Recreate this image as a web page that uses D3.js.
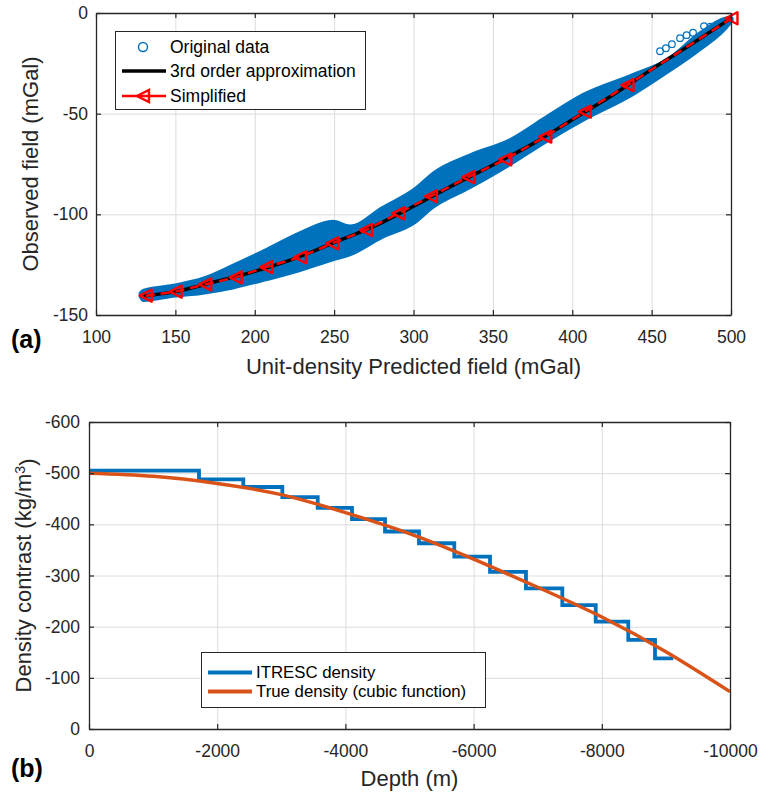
<!DOCTYPE html>
<html><head><meta charset="utf-8">
<script src="https://cdn.jsdelivr.net/npm/d3@7"></script>
<style>
body{margin:0;background:#fff;}
svg{display:block;font-family:"Liberation Sans",Arial,Helvetica,sans-serif;}
</style>
</head><body>
<svg id="c" width="764" height="794"></svg>
<script>
// ---------- Panel (a) data ----------
const xTicksA = [100,150,200,250,300,350,400,450,500];
const yTicksA = [0,-50,-100,-150];
// envelope of the "Original data" point cloud
const bandX     = [127.5, 129.6, 148.5, 167.4, 186.3, 207.7, 228.5, 249.3, 260.0, 280.2, 300.9, 312.3, 335.6, 360.8, 382.8, 406.8, 438.3, 459.7, 480.5, 499.4, 501.0];
const bandUpper = [-139.0,-137.6,-135.0,-131.5,-125.0,-117.0,-108.8,-103.2,-105.5,-96.4,-87.0,-79.2,-70.2,-62.6,-51.7,-40.2,-30.3,-22.9,-9.5,-2.0,-2.5];
const bandLower = [-141.0,-143.0,-141.0,-139.4,-136.8,-132.6,-128.2,-122.8,-120.4,-111.8,-104.4,-96.8,-87.0,-75.6,-64.6,-53.6,-40.8,-29.9,-18.5,-5.5,-3.8];
// scattered open circles above the cloud, top right
const outlierX = [455.3, 459.0, 462.8, 467.9, 472.0, 476.1, 483.0, 487.0, 491.2];
const outlierY = [-19.0, -17.5, -15.5, -12.5, -11.0, -9.8, -6.5, -6.8, -5.8];
// 3rd order approximation
const approxX = [130, 150, 175, 200, 225, 250, 275, 300, 325, 350, 375, 400, 425, 450, 475, 500];
const approxY = [-140.6,-138.4,-133.5,-128.3,-122.0,-114.0,-106.0,-96.0,-85.5,-75.5,-65.0,-53.0,-41.0,-28.0,-15.5,-2.6];
// Simplified
const simpX = [131.3, 150.2, 168.8, 188.0, 207.2, 228.5, 248.8, 270.0, 290.4, 311.0, 334.5, 357.8, 383.0, 407.9, 434.8, 500.3];
const simpY = [-140.4,-138.4,-134.8,-131.3,-126.2,-121.3,-114.4,-107.8,-99.5,-91.0,-81.5,-72.7,-61.4,-49.0,-35.8,-2.6];

// ---------- Panel (b) data ----------
const xTicksB = [0,-2000,-4000,-6000,-8000,-10000];
const yTicksB = [0,-100,-200,-300,-400,-500,-600];
const stepEdges  = [0,-1716,-2407,-3016,-3568,-4103,-4618,-5148,-5699,-6256,-6817,-7384,-7905,-8413,-8830,-9115];
const stepValues = [-505,-488,-473,-453,-432,-410,-386,-363,-337,-307,-275,-242,-210,-174,-138];
const trueDepth   = [0,-1000,-2000,-3000,-4000,-5000,-6000,-7000,-8000,-9000,-10000];
const trueDensity = [-500,-494,-480,-458,-423,-382,-332,-277,-219,-151,-73];

const BLUE = "#0072BD", ORANGE = "#D95319", RED = "#FF0000", AX = "#262626";
const svg = d3.select("#c");

function frame(g, x, y, xt, yt, L, R, T, B) {
  g.append("g").attr("transform",`translate(0,${B})`)
    .call(d3.axisBottom(x).tickValues(xt).tickSize(-(B-T)).tickFormat(""))
    .call(s=>{s.select(".domain").remove(); s.selectAll("line").attr("stroke","#dcdcdc").attr("stroke-width",1);});
  g.append("g").attr("transform",`translate(${L},0)`)
    .call(d3.axisLeft(y).tickValues(yt).tickSize(-(R-L)).tickFormat(""))
    .call(s=>{s.select(".domain").remove(); s.selectAll("line").attr("stroke","#dcdcdc").attr("stroke-width",1);});
}
function axes(g, x, y, xt, yt, L, R, T, B, yPad) {
  const style = s => {
    s.select(".domain").attr("stroke",AX).attr("stroke-width",1.3);
    s.selectAll(".tick line").attr("stroke",AX).attr("stroke-width",1.2);
    s.selectAll("text").attr("fill",AX).attr("font-size",17.5).attr("font-family","Liberation Sans, Arial, sans-serif");
  };
  g.append("g").attr("transform",`translate(0,${B})`)
    .call(d3.axisBottom(x).tickValues(xt).tickSizeInner(-5).tickSizeOuter(0).tickPadding(16).tickFormat(d3.format("d")))
    .call(style);
  g.append("g").attr("transform",`translate(0,${T})`)
    .call(d3.axisTop(x).tickValues(xt).tickSizeInner(-5).tickSizeOuter(0).tickFormat(""))
    .call(style);
  g.append("g").attr("transform",`translate(${L},0)`)
    .call(d3.axisLeft(y).tickValues(yt).tickSizeInner(-5).tickSizeOuter(0).tickPadding(yPad).tickFormat(d3.format("d")))
    .call(style);
  g.append("g").attr("transform",`translate(${R},0)`)
    .call(d3.axisRight(y).tickValues(yt).tickSizeInner(-5).tickSizeOuter(0).tickFormat(""))
    .call(style);
  g.selectAll(".tick text").each(function(){ const t=d3.select(this); t.text(t.text().replace("−","-")); });
}
function triLeft(size){ const h=size/2; return `M${-h},0 L${h},${-h} L${h},${h} Z`; }

// ================= Panel (a) =================
{
  const L=96, R=731, T=13, B=315;
  const x = d3.scaleLinear().domain([100,500]).range([L,R]);
  const y = d3.scaleLinear().domain([-150,0]).range([B,T]);
  const g = svg.append("g");
  frame(g,x,y,xTicksA,yTicksA,L,R,T,B);

  const band = bandX.map((v,i)=>({x:v,u:bandUpper[i],l:bandLower[i]}));
  const area = d3.area().x(d=>x(d.x)).y0(d=>y(d.l)).y1(d=>y(d.u)).curve(d3.curveMonotoneX);
  g.append("path").datum(band).attr("d",area).attr("fill",BLUE).attr("stroke",BLUE).attr("stroke-width",2).attr("stroke-linejoin","round");
  g.append("g").selectAll("circle").data(outlierX.map((v,i)=>({x:v,y:outlierY[i]}))).join("circle")
    .attr("cx",d=>x(d.x)).attr("cy",d=>y(d.y)).attr("r",3.3).attr("fill","none").attr("stroke",BLUE).attr("stroke-width",1.2);

  const ap = approxX.map((v,i)=>[v,approxY[i]]);
  g.append("path").datum(ap).attr("d",d3.line().x(d=>x(d[0])).y(d=>y(d[1])).curve(d3.curveMonotoneX))
    .attr("fill","none").attr("stroke","#000").attr("stroke-width",3.5);
  const sp = simpX.map((v,i)=>[v,simpY[i]]);
  g.append("path").datum(sp).attr("d",d3.line().x(d=>x(d[0])).y(d=>y(d[1])))
    .attr("fill","none").attr("stroke",RED).attr("stroke-width",2.5).attr("stroke-dasharray","9,6");
  g.append("g").selectAll("path").data(sp).join("path")
    .attr("transform",d=>`translate(${x(d[0])},${y(d[1])})`).attr("d",triLeft(12))
    .attr("fill","none").attr("stroke",RED).attr("stroke-width",2.4).attr("stroke-linejoin","round");

  axes(g,x,y,xTicksA,yTicksA,L,R,T,B,8);

  const lg = g.append("g");
  lg.append("rect").attr("x",115.5).attr("y",31.5).attr("width",250).attr("height",78).attr("fill","#fff").attr("stroke",AX).attr("stroke-width",1);
  lg.append("circle").attr("cx",143).attr("cy",47).attr("r",4.5).attr("fill","none").attr("stroke",BLUE).attr("stroke-width",1.5);
  lg.append("line").attr("x1",122).attr("x2",166).attr("y1",71).attr("y2",71).attr("stroke","#000").attr("stroke-width",3.5);
  lg.append("line").attr("x1",122).attr("x2",166).attr("y1",96).attr("y2",96).attr("stroke",RED).attr("stroke-width",2.5);
  lg.append("path").attr("transform","translate(143,96)").attr("d",triLeft(12)).attr("fill","none").attr("stroke",RED).attr("stroke-width",2.4);
  const labs=["Original data","3rd order approximation","Simplified"], ly=[47,71,96];
  labs.forEach((t,i)=>lg.append("text").attr("x",170).attr("y",ly[i]).attr("dy","0.35em").attr("font-size",17.5).attr("fill","#000").text(t));

  g.append("text").attr("x",(L+R)/2).attr("y",374).attr("text-anchor","middle").attr("font-size",22).attr("fill",AX).text("Unit-density Predicted field (mGal)");
  g.append("text").attr("transform",`translate(38,${(T+B)/2}) rotate(-90)`).attr("text-anchor","middle").attr("font-size",22).attr("fill",AX).text("Observed field (mGal)");
  g.append("text").attr("x",11).attr("y",348).attr("font-size",25).attr("font-weight","bold").attr("fill","#000").text("(a)");
}

// ================= Panel (b) =================
{
  const L=89, R=730, T=422, B=729;
  const x = d3.scaleLinear().domain([0,-10000]).range([L,R]);
  const y = d3.scaleLinear().domain([0,-600]).range([B,T]);
  const g = svg.append("g");
  frame(g,x,y,xTicksB,yTicksB,L,R,T,B);

  const st = stepValues.map((v,i)=>[stepEdges[i],v]);
  st.push([stepEdges[stepEdges.length-1], stepValues[stepValues.length-1]]);
  g.append("path").datum(st).attr("d",d3.line().x(d=>x(d[0])).y(d=>y(d[1])).curve(d3.curveStepAfter))
    .attr("fill","none").attr("stroke",BLUE).attr("stroke-width",3.8).attr("stroke-linejoin","miter");
  const tr = trueDepth.map((v,i)=>[v,trueDensity[i]]);
  g.append("path").datum(tr).attr("d",d3.line().x(d=>x(d[0])).y(d=>y(d[1])).curve(d3.curveNatural))
    .attr("fill","none").attr("stroke",ORANGE).attr("stroke-width",3.5);

  axes(g,x,y,xTicksB,yTicksB,L,R,T,B,9);

  const lg = g.append("g");
  lg.append("rect").attr("x",201.5).attr("y",652.5).attr("width",284).attr("height",55).attr("fill","#fff").attr("stroke",AX).attr("stroke-width",1);
  lg.append("line").attr("x1",208).attr("x2",252).attr("y1",672.5).attr("y2",672.5).attr("stroke",BLUE).attr("stroke-width",4);
  lg.append("line").attr("x1",208).attr("x2",252).attr("y1",691.5).attr("y2",691.5).attr("stroke",ORANGE).attr("stroke-width",4);
  lg.append("text").attr("x",256).attr("y",672.5).attr("dy","0.35em").attr("font-size",16.8).attr("fill","#000").text("ITRESC density");
  lg.append("text").attr("x",256).attr("y",691.5).attr("dy","0.35em").attr("font-size",16.8).attr("fill","#000").text("True density (cubic function)");

  g.append("text").attr("x",(L+R)/2).attr("y",786).attr("text-anchor","middle").attr("font-size",22).attr("fill",AX).text("Depth (m)");
  const yl = g.append("text").attr("transform",`translate(31,${(T+B)/2}) rotate(-90)`).attr("text-anchor","middle").attr("font-size",22).attr("fill",AX);
  yl.append("tspan").text("Density contrast (kg/m");
  yl.append("tspan").attr("dy","-0.45em").attr("font-size",14).text("3");
  yl.append("tspan").attr("dy","0.45em").text(")");
  g.append("text").attr("x",11).attr("y",777).attr("font-size",25).attr("font-weight","bold").attr("fill","#000").text("(b)");
}
</script>
</body></html>
